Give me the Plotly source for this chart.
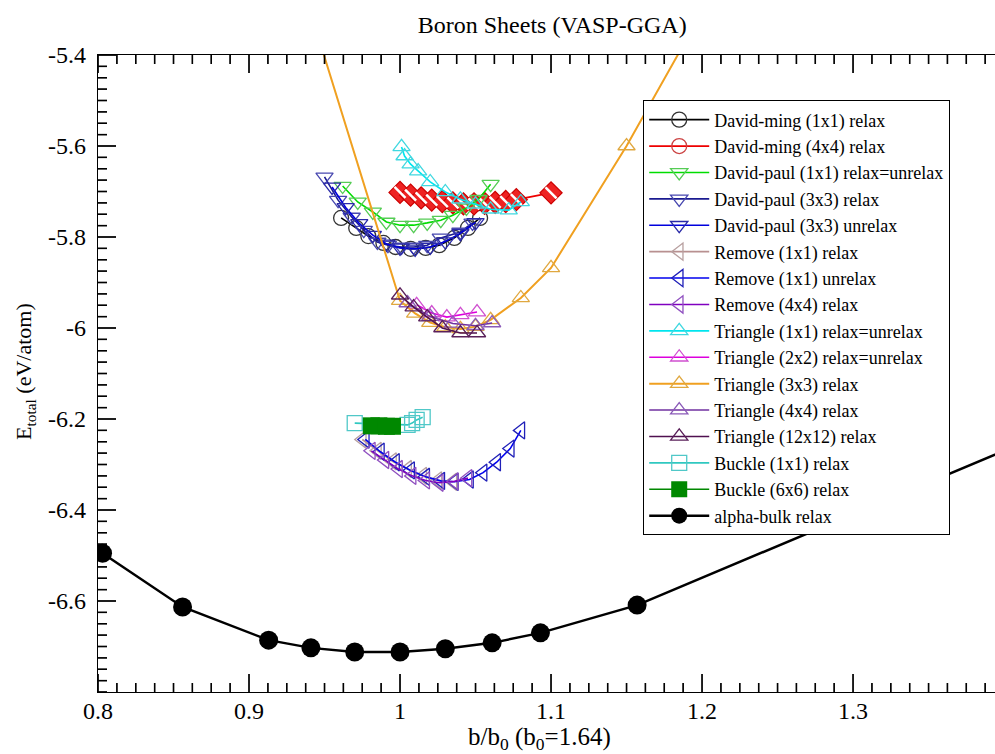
import numpy as np
import plotly.graph_objects as go

# ---- data: b/b0 ratio vs total energy (eV/atom) ----
dm11_x = [0.961, 0.971, 0.979, 0.989, 0.997, 1.007, 1.017, 1.026, 1.036, 1.045, 1.053]
dm11_y = [-5.758, -5.780, -5.798, -5.813, -5.822, -5.826, -5.824, -5.818, -5.802, -5.780, -5.758]

dm44_x = [1.000, 1.007, 1.014, 1.021, 1.028, 1.035, 1.042, 1.049, 1.056, 1.063, 1.070, 1.077, 1.100]
dm44_y = [-5.702, -5.708, -5.714, -5.719, -5.722, -5.725, -5.727, -5.727, -5.726, -5.724, -5.722, -5.718, -5.703]

dp11_x = [0.962, 0.972, 0.982, 0.991, 1.000, 1.009, 1.018, 1.027, 1.035, 1.044, 1.052, 1.060]
dp11_y = [-5.688, -5.723, -5.745, -5.767, -5.774, -5.774, -5.769, -5.763, -5.752, -5.736, -5.717, -5.684]

dp33r_x = [0.950, 0.959, 0.968, 0.976, 0.985, 0.992, 1.001, 1.009, 1.018, 1.027, 1.040, 1.048]
dp33r_y = [-5.668, -5.719, -5.756, -5.785, -5.811, -5.818, -5.822, -5.822, -5.818, -5.802, -5.789, -5.769]

dp33u_x = [0.955, 0.964, 0.973, 0.982, 0.991, 1.000, 1.010, 1.020, 1.030, 1.040, 1.050]
dp33u_y = [-5.690, -5.735, -5.770, -5.796, -5.815, -5.824, -5.826, -5.822, -5.810, -5.792, -5.768]

rm11r_x = [0.975, 0.985, 0.995, 1.005, 1.015, 1.025, 1.035]
rm11r_y = [-6.245, -6.270, -6.293, -6.310, -6.325, -6.335, -6.338]

rm11u_x = [0.977, 0.987, 0.997, 1.007, 1.017, 1.027, 1.036, 1.046, 1.055, 1.064, 1.073, 1.080]
rm11u_y = [-6.245, -6.272, -6.295, -6.313, -6.327, -6.336, -6.338, -6.333, -6.318, -6.295, -6.265, -6.225]

rm44_x = [0.981, 0.990, 0.999, 1.008, 1.017, 1.026, 1.036, 1.045]
rm44_y = [-6.270, -6.290, -6.310, -6.325, -6.335, -6.340, -6.337, -6.330]

tr11_x = [1.001, 1.003, 1.007, 1.012, 1.020, 1.030, 1.040, 1.050, 1.060, 1.072, 1.080]
tr11_y = [-5.602, -5.622, -5.640, -5.655, -5.679, -5.701, -5.717, -5.728, -5.739, -5.741, -5.723]

tr22_x = [1.011, 1.021, 1.031, 1.040, 1.051]
tr22_y = [-5.949, -5.967, -5.976, -5.971, -5.965]

tr33_x = [0.930, 1.000, 1.010, 1.020, 1.030, 1.040, 1.050, 1.060, 1.080, 1.100, 1.150, 1.200]
tr33_y = [-5.190, -5.940, -5.968, -5.988, -5.998, -6.002, -5.997, -5.982, -5.934, -5.868, -5.600, -5.305]

tr44_x = [1.005, 1.020, 1.035, 1.050, 1.061]
tr44_y = [-5.945, -5.975, -5.990, -5.995, -5.989]

tr1212_x = [1.000, 1.009, 1.018, 1.028, 1.040, 1.051]
tr1212_y = [-5.928, -5.954, -5.976, -6.000, -6.011, -6.011]

bk11_x = [0.970, 1.005, 1.008, 1.011, 1.015]
bk11_y = [-6.209, -6.213, -6.209, -6.202, -6.196]

bk66_x = [0.981, 0.986, 0.991, 0.995]
bk66_y = [-6.215, -6.215, -6.216, -6.216]

alpha_x = [0.803, 0.856, 0.913, 0.941, 0.970, 1.000, 1.030, 1.061, 1.093, 1.157, 1.450]
alpha_y = [-6.495, -6.613, -6.686, -6.703, -6.712, -6.712, -6.705, -6.692, -6.670, -6.609, -6.200]

x_ticks = [0.8, 0.9, 1.0, 1.1, 1.2, 1.3]
x_tick_text = ["0.8", "0.9", "1", "1.1", "1.2", "1.3"]
y_ticks = [-5.4, -5.6, -5.8, -6.0, -6.2, -6.4, -6.6]
y_tick_text = ["-5.4", "-5.6", "-5.8", "-6", "-6.2", "-6.4", "-6.6"]

# ---- frame geometry ----
W, H = 995, 754
M_L, M_R, M_T, M_B = 98, 0, 55, 62
X_RANGE = [0.8, 1.394]
Y_RANGE = [-6.8, -5.4]
X_MINOR = 0.0125
Y_MINOR = 0.025
MAJOR_LEN, MINOR_LEN = 18, 9

FONT = "Liberation Serif, Times New Roman, serif"

fig = go.Figure()


def add(name, x, y, line_color, marker_color, symbol, size=15, lw=1.6, mlw=1.3):
    filled = not symbol.endswith("-open")
    fig.add_trace(go.Scatter(
        x=x, y=y, name=name, mode="lines+markers", legendgroup=name,
        line=dict(color=line_color, width=lw),
        marker=dict(symbol=symbol, size=size, color=marker_color,
                    line=dict(color=marker_color, width=mlw if not filled else 0)),
    ))


add("David-ming (1x1) relax", dm11_x, dm11_y, "#000000", "#333333", "circle-open", 15)

# 4x4 points: striped red diamonds on the curve, circle symbol in the legend
fig.add_trace(go.Scatter(
    x=dm44_x, y=dm44_y, mode="lines+markers", showlegend=False,
    legendgroup="dm44", line=dict(color="#ee0000", width=1.8),
    marker=dict(symbol="diamond", size=17, color="#ee2222",
                line=dict(color="#cc0000", width=1.2)),
))
fig.add_trace(go.Scatter(
    x=dm44_x, y=dm44_y, mode="markers", showlegend=False, hoverinfo="skip",
    legendgroup="dm44",
    marker=dict(symbol="line-nw", size=11, color="white",
                line=dict(color="white", width=2.5)),
))
fig.add_trace(go.Scatter(
    x=[None], y=[None], name="David-ming (4x4) relax", mode="lines+markers",
    legendgroup="dm44", line=dict(color="#ee0000", width=1.8),
    marker=dict(symbol="circle-open", size=15, color="#cc4444",
                line=dict(color="#cc4444", width=1.3)),
))

add("David-paul (1x1) relax=unrelax", dp11_x, dp11_y, "#00dd00", "#55cc55", "triangle-down-open")
add("David-paul (3x3) relax", dp33r_x, dp33r_y, "#1a1a90", "#4848b0", "triangle-down-open")
add("David-paul (3x3) unrelax", dp33u_x, dp33u_y, "#0000dd", "#2a2aa8", "triangle-down-open")
add("Remove (1x1) relax", rm11r_x, rm11r_y, "#b89090", "#b8a0a0", "triangle-left-open")
add("Remove (1x1) unrelax", rm11u_x, rm11u_y, "#0000ee", "#2020b8", "triangle-left-open")
add("Remove (4x4) relax", rm44_x, rm44_y, "#8000c0", "#9050c0", "triangle-left-open")
add("Triangle (1x1) relax=unrelax", tr11_x, tr11_y, "#00e5ee", "#40d8e0", "triangle-up-open")
add("Triangle (2x2) relax=unrelax", tr22_x, tr22_y, "#dd00dd", "#d050d0", "triangle-up-open")
add("Triangle (3x3) relax", tr33_x, tr33_y, "#f0a020", "#e0a840", "triangle-up-open", lw=2)
add("Triangle (4x4) relax", tr44_x, tr44_y, "#7030a0", "#8a5ab8", "triangle-up-open")
add("Triangle (12x12) relax", tr1212_x, tr1212_y, "#501050", "#5a205a", "triangle-up-open")
add("Buckle (1x1) relax", bk11_x, bk11_y, "#30c8c0", "#50c8c8", "square-open")
add("Buckle (6x6) relax", bk66_x, bk66_y, "#008800", "#008800", "square", 17)
add("alpha-bulk relax", alpha_x, alpha_y, "#000000", "#000000", "circle", 19, lw=2.5)

# ---- inward frame ticks (bottom, top, left), lengths given in pixels ----
x_per_px = (X_RANGE[1] - X_RANGE[0]) / (W - M_L - M_R)
y_per_px = (Y_RANGE[1] - Y_RANGE[0]) / (H - M_T - M_B)
x_tick_pos = [float(v) for v in np.arange(X_RANGE[0], X_RANGE[1] + 1e-9, X_MINOR)]
y_tick_pos = [float(v) for v in np.arange(Y_RANGE[0], Y_RANGE[1] + 1e-9, Y_MINOR)]
x_is_major = [any(abs(v - t) < 1e-6 for t in x_ticks) for v in x_tick_pos]
y_is_major = [any(abs(v - t) < 1e-6 for t in y_ticks) for v in y_tick_pos]

tx, ty = [], []
for xv, big in zip(x_tick_pos, x_is_major):
    ln = MAJOR_LEN if big else MINOR_LEN
    tx += [xv, xv, None, xv, xv, None]
    ty += [Y_RANGE[0], Y_RANGE[0] + ln * y_per_px, None,
           Y_RANGE[1], Y_RANGE[1] - ln * y_per_px, None]
for yv, big in zip(y_tick_pos, y_is_major):
    ln = MAJOR_LEN if big else MINOR_LEN
    tx += [X_RANGE[0], X_RANGE[0] + ln * x_per_px, None]
    ty += [yv, yv, None]
fig.add_trace(go.Scatter(x=tx, y=ty, mode="lines", showlegend=False,
                         hoverinfo="skip", connectgaps=False,
                         line=dict(color="black", width=1.5, simplify=False)))

# the same ticks as line-shaped markers centred on the frame and clipped to it
LINE_SYM_SCALE = 2.8  # line-ns / line-ew span 1.4 * size, half of it inside


def tick_markers(xs, ys, sizes, symbol):
    fig.add_trace(go.Scatter(
        x=xs, y=ys, mode="markers", showlegend=False, hoverinfo="skip",
        cliponaxis=True,
        marker=dict(symbol=symbol, size=sizes, color="black",
                    line=dict(color="black", width=1.3)),
    ))


xs_sizes = [(MAJOR_LEN if b else MINOR_LEN) * 2 / 1.4 for b in x_is_major]
ys_sizes = [(MAJOR_LEN if b else MINOR_LEN) * 2 / 1.4 for b in y_is_major]
tick_markers(x_tick_pos, [Y_RANGE[0]] * len(x_tick_pos), xs_sizes, "line-ns")
tick_markers(x_tick_pos, [Y_RANGE[1]] * len(x_tick_pos), xs_sizes, "line-ns")
tick_markers([X_RANGE[0]] * len(y_tick_pos), y_tick_pos, ys_sizes, "line-ew")

tick_font = dict(family=FONT, size=24, color="black")

axis_common = dict(
    showline=True, linecolor="black", linewidth=1.2, mirror=True,
    ticks="", showgrid=False, zeroline=False, tickfont=tick_font,
)

fig.update_layout(
    template="none",
    width=W, height=H,
    margin=dict(l=M_L, r=M_R, t=M_T, b=M_B),
    paper_bgcolor="white", plot_bgcolor="white",
    font=dict(family=FONT, color="black"),
    title=dict(text="Boron Sheets (VASP-GGA)", x=0.555, xanchor="center",
               y=0.967, yanchor="middle", yref="container",
               font=dict(family=FONT, size=24, color="black")),
    xaxis=dict(range=X_RANGE, tickmode="array", tickvals=x_ticks,
               ticktext=x_tick_text, ticklabelstandoff=-3, **axis_common),
    yaxis=dict(range=Y_RANGE, tickmode="array", tickvals=y_ticks,
               ticktext=y_tick_text, ticklabelstandoff=6, **axis_common),
    annotations=[
        dict(text="b/b<sub>0</sub> (b<sub>0</sub>=1.64)", xref="paper", yref="paper",
             x=(539 - M_L) / (W - M_L - M_R), y=-(738 - (H - M_B)) / (H - M_T - M_B),
             xanchor="center", yanchor="middle", showarrow=False,
             font=dict(family=FONT, size=25, color="black")),
        dict(text="E<sub>total</sub> (eV/atom)", xref="paper", yref="paper",
             x=(25 - M_L) / (W - M_L - M_R), y=((H - M_B) - 372) / (H - M_T - M_B),
             xanchor="center", yanchor="middle", textangle=-90, showarrow=False,
             font=dict(family=FONT, size=22, color="black")),
    ],
    legend=dict(
        x=0.6076, y=0.929, xanchor="left", yanchor="top",
        bgcolor="white", bordercolor="black", borderwidth=1.2,
        font=dict(family=FONT, size=18, color="black"),
        tracegroupgap=0, itemwidth=60,
    ),
)

fig.write_html("out.html")
